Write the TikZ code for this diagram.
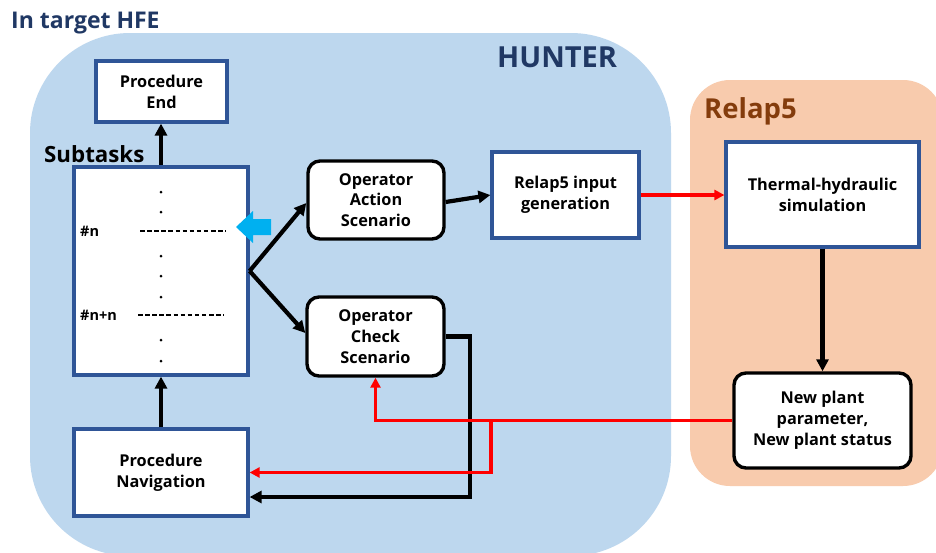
\documentclass[tikz,border=0pt]{standalone}
\usepackage{fontspec}
\setmainfont{Open Sans}
\usetikzlibrary{arrows.meta}
\definecolor{hunterfill}{HTML}{BDD7EE}
\definecolor{relapfill}{HTML}{F8CBAD}
\definecolor{boxblue}{HTML}{2F5597}
\definecolor{navy}{HTML}{203864}
\definecolor{brown5}{HTML}{843C0C}
\definecolor{cyanarrow}{HTML}{00B0F0}
\definecolor{redline}{HTML}{FF0000}
\begin{document}
\begin{tikzpicture}[x=1pt,y=-1pt,
  boxtext/.style={font=\fontsize{16.3}{20.8}\selectfont\bfseries, align=center, inner sep=0pt},
  bluebox/.style={boxtext, draw=boxblue, line width=3.2pt, fill=white},
  roundbox/.style={boxtext, draw=black, line width=3.4pt, fill=white, rounded corners=12pt},
  blackarrow/.style={draw=black, line width=4.2pt, -{Triangle[length=12pt,width=12pt]}},
  redarrow/.style={draw=redline, line width=3.2pt, -{Triangle[length=10pt,width=10pt]}},
  rowlabel/.style={font=\fontsize{14.5}{16}\selectfont\bfseries, anchor=west, inner sep=0pt},
  dashrow/.style={draw=black, line width=1.6pt, dash pattern=on 4.5pt off 2.6pt},
]
\useasboundingbox (0,0) rectangle (936,552);
\clip (0,0) rectangle (936,552);
\fill[white] (0,0) rectangle (936,552);

% regions
\fill[hunterfill, rounded corners=100pt] (30,33) rectangle (671,556);
\fill[relapfill, rounded corners=40pt] (690,80) rectangle (943,486);

% titles
\node[font=\fontsize{23}{26}\selectfont\bfseries, text=navy, anchor=base west, inner sep=0pt] (title) at (11,28) {In target HFE};
\node[font=\fontsize{29}{32}\selectfont\bfseries, text=navy, anchor=base west, inner sep=0pt] (hunter) at (497,67) {HUNTER};
\node[font=\fontsize{27.5}{30}\selectfont\bfseries, text=brown5, anchor=base west, inner sep=0pt] (relap) at (704,118) {Relap5};
\node[font=\fontsize{22.3}{24}\selectfont\bfseries, anchor=base west, inner sep=0pt] (subtitle) at (44,162) {Subtasks};

% boxes
\node[bluebox, minimum width=131pt, minimum height=61pt] (pend) at (161.5,91.5) {Procedure\\End};
\node[bluebox, minimum width=174pt, minimum height=208pt] (sub) at (161,271) {};
\node[bluebox, minimum width=174pt, minimum height=87pt] (nav) at (161,472.5) {Procedure\\Navigation};
\node[roundbox, minimum width=136pt, minimum height=78pt] (act) at (376,200) {Operator\\Action\\Scenario};
\node[roundbox, minimum width=137pt, minimum height=79pt] (chk) at (375.5,336.5) {Operator\\Check\\Scenario};
\node[bluebox, minimum width=147pt, minimum height=86pt] (inp) at (565.5,195) {Relap5 input\\generation};
\node[bluebox, minimum width=193pt, minimum height=105pt] (th) at (822.5,194.5) {Thermal-hydraulic\\simulation};
\node[roundbox, minimum width=177pt, minimum height=95pt] (newp) at (822.5,420.5) {New plant\\parameter,\\New plant status};

% subtasks contents
\foreach \yy in {192,212,256,276,297,340,361} {
  \fill (161,\yy) circle (1.5pt);
}
\node[rowlabel] (rown) at (80,231) {\#n};
\node[rowlabel] (rownn) at (80,315) {\#n+n};
\draw[dashrow] (140,231) -- (226,231);
\draw[dashrow] (138,315) -- (224,315);

% cyan pointer
\fill[cyanarrow] (236,227) -- (253,211) -- (253,219) -- (271,219) -- (271,235) -- (253,235) -- (253,243) -- cycle;

% connectors
\draw[blackarrow] (sub.north) -- (sub.north |- pend.south);
\draw[blackarrow] (nav.north) -- (nav.north |- sub.south);
\draw[blackarrow] (sub.east) -- ([yshift=-3pt]act.west);
\draw[blackarrow] (sub.east) -- ([yshift=3.5pt]chk.west);
\draw[blackarrow] ([yshift=-2pt]act.east) -- (inp.west);
\draw[redarrow] (inp.east) -- (inp.east -| th.west);
\draw[blackarrow] (th.south) -- (th.south |- newp.north);

\coordinate (bk) at (470,497);
\draw[blackarrow] (chk.east) -| (bk) -- (nav.east |- bk);

\coordinate (br) at (491,420.5);
\draw[redarrow] (newp.west) -| (chk.south);
\draw[redarrow] (br) |- (nav.east);
\end{tikzpicture}
\end{document}
